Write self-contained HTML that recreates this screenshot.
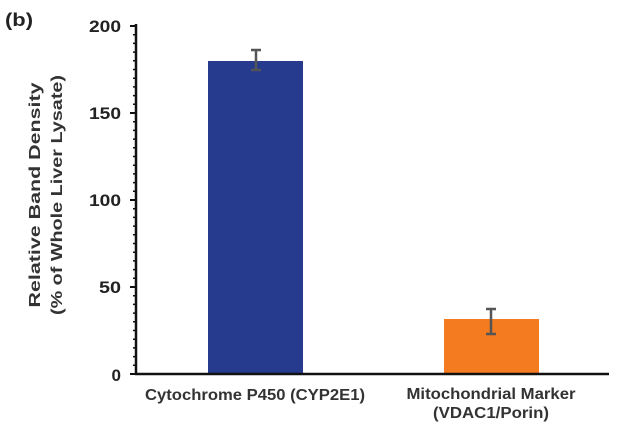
<!DOCTYPE html>
<html><head><style>body{margin:0;background:#fff}</style></head><body>
<svg width="640" height="441" xmlns="http://www.w3.org/2000/svg" font-family="Liberation Sans, Arial, sans-serif" font-weight="bold">
<rect width="640" height="441" fill="#fff"/>
<text x="5" y="26" font-size="18" fill="#222" textLength="28" lengthAdjust="spacingAndGlyphs">(b)</text>
<g fill="#222" font-size="17" text-anchor="end">
<text x="121" y="32" textLength="32" lengthAdjust="spacingAndGlyphs">200</text>
<text x="121" y="119" textLength="32" lengthAdjust="spacingAndGlyphs">150</text>
<text x="121" y="206" textLength="32" lengthAdjust="spacingAndGlyphs">100</text>
<text x="121" y="293" textLength="22" lengthAdjust="spacingAndGlyphs">50</text>
<text x="121" y="381">0</text>
</g>
<g fill="#333" font-size="16" text-anchor="middle">
<text transform="translate(40,195) rotate(-90)" textLength="225" lengthAdjust="spacingAndGlyphs">Relative Band Density</text>
<text transform="translate(62,195) rotate(-90)" textLength="240" lengthAdjust="spacingAndGlyphs">(% of Whole Liver Lysate)</text>
</g>
<rect x="208" y="61" width="95" height="313" fill="#263a8e"/>
<rect x="444" y="319" width="95" height="55" fill="#f47b20"/>
<g stroke="#555" stroke-width="2.5" fill="none">
<path d="M256 50V70M251 50H261M251 70H261"/>
<path d="M491 309V334M486 309H496M486 334H496"/>
</g>
<g stroke="#111">
<path d="M136 24V375M135 374H609" stroke-width="2.5"/>
<path d="M130 26H136M130 113H136M130 200H136M130 287H136M130 374H136" stroke-width="2"/>
<path d="M133 34.7H136M133 43.4H136M133 52.1H136M133 60.8H136M133 69.5H136M133 78.2H136M133 86.9H136M133 95.6H136M133 104.3H136M133 121.7H136M133 130.4H136M133 139.1H136M133 147.8H136M133 156.5H136M133 165.2H136M133 173.9H136M133 182.6H136M133 191.3H136M133 208.7H136M133 217.4H136M133 226.1H136M133 234.8H136M133 243.5H136M133 252.2H136M133 260.9H136M133 269.6H136M133 278.3H136M133 295.7H136M133 304.4H136M133 313.1H136M133 321.8H136M133 330.5H136M133 339.2H136M133 347.9H136M133 356.6H136M133 365.3H136" stroke-width="1.5"/>
</g>
<g fill="#333" font-size="16" text-anchor="middle">
<text x="255" y="400" textLength="220" lengthAdjust="spacingAndGlyphs">Cytochrome P450 (CYP2E1)</text>
<text x="491" y="399" textLength="169" lengthAdjust="spacingAndGlyphs">Mitochondrial Marker</text>
<text x="491" y="418" textLength="116" lengthAdjust="spacingAndGlyphs">(VDAC1/Porin)</text>
</g>
</svg>
</body></html>
